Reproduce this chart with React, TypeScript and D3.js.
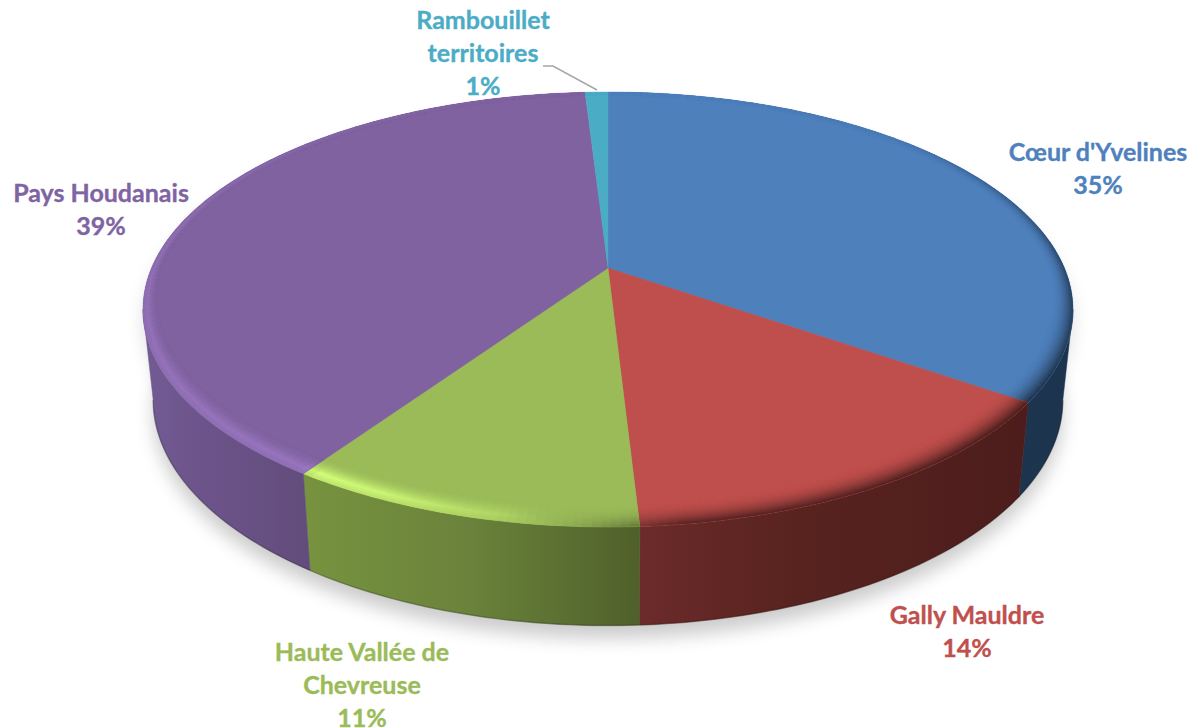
import React from "react";
import * as d3 from "d3";

const categories = ["Cœur d'Yvelines", "Gally Mauldre", "Haute Vallée de Chevreuse", "Pays Houdanais", "Rambouillet territoires"];
const labelPercents = ["35%", "14%", "11%", "39%", "1%"];
const shares = [34.7, 14.4, 10.4, 39.55, 0.95];
const colors = ["#4e80bc", "#bf4f4c", "#9bbb59", "#7f629f", "#4bacc6"];
const labelColors = ["#4f81bd", "#c0504d", "#9bbb59", "#8064a2", "#4bacc6"];
const labelLines = [["Cœur d'Yvelines", "35%"], ["Gally Mauldre", "14%"], ["Haute Vallée de", "Chevreuse", "11%"], ["Pays Houdanais", "39%"], ["Rambouillet", "territoires", "1%"]];
const labelAnchors = [[1098, 161], [967, 624], [362, 661], [101, 202], [483, 29]];
const wallStops = [
  [["#1f3753", 0], ["#1d344e", 1]],
  [["#6b2b2a", 0], ["#58231f", 0.4], ["#4c1d1c", 1]],
  [["#77933f", 0], ["#6a823b", 0.5], ["#4f602a", 1]],
  [["#725a93", 0], ["#6a5287", 0.5], ["#624c7b", 1]],
  [["#2a6070", 0], ["#2a6070", 1]],
];

const W = 1192, H = 728;
const cx = 608, apexY = 268, p = 0.1908, a = 158.45, c = 456.5;
const project = (t: number, r: number): [number, number] => {
  const u = r * Math.sin(t), v = -r * Math.cos(t);
  const w = 1 - p * v;
  return [cx + (c * u) / w, (a * v + apexY) / w];
};
const lower = ([x, y]: [number, number]): [number, number] => [cx + 0.978 * (x - cx), 400 + 1.037 * (y - 309.5)];

const lightScale = d3.scaleLinear()
  .domain([0, 45, 90, 126, 172, 183, 192, 205, 213, 215, 245, 275, 320, 360])
  .range([0, -0.05, -0.45, -0.62, -0.55, -0.1, 0.15, 0.32, 0.36, 0.2, 0.18, 0.14, 0.05, 0])
  .clamp(true);
const profile = (s: number, L: number) => (L < 0 ? s * s : s < 0.7 ? Math.pow(s / 0.7, 1.6) : 1 - ((s - 0.7) / 0.3) * 0.35);
const shade = (col: string, f: number) => {
  const q = d3.rgb(col);
  return d3.rgb(Math.min(255, q.r * f), Math.min(255, q.g * f), Math.min(255, q.b * f)).formatHex();
};

const pieArcs = d3.pie<number>().sort(null).startAngle(0).endAngle(2 * Math.PI)(shares);
const line = d3.line<[number, number]>();
const DEG = Math.PI / 180;
const samples = (a0: number, a1: number) => {
  const n = Math.max(2, Math.ceil((a1 - a0) / DEG));
  return d3.range(n + 1).map((i) => a0 + ((a1 - a0) * i) / n);
};
const BANDS = 12;
// The wall is visible only between the two silhouette tangents of the rim.
const silhouette = Math.acos(-p);

export default function App() {
  const allTs = samples(0, 2 * Math.PI);
  const bottomHull = allTs.map((t) => lower(project(t, 1)));
  const topHull = allTs.map((t) => project(t, 1));
  return (
    <svg width={W} height={H} viewBox={`0 0 ${W} ${H}`} style={{ position: "absolute", left: 0, top: 0, background: "#fff" }}>
      <defs>
        <filter id="soft" x="-10%" y="-10%" width="120%" height="130%"><feGaussianBlur stdDeviation="9" /></filter>
        {pieArcs.map((d, i) => (
          <linearGradient key={i} id={`wall${i}`} gradientUnits="userSpaceOnUse"
            x1={i === 0 || i === 1 ? 640 : i === 2 ? 304 : 145} x2={i === 0 ? 1072 : i === 1 ? 1027 : i === 2 ? 640 : 311} y1={0} y2={0}>
            {wallStops[i].map(([col, off], j) => <stop key={j} offset={off as number} stopColor={col as string} />)}
          </linearGradient>
        ))}
      </defs>
      <path d={(line(bottomHull) ?? "") + "Z"} transform="translate(0,13)" fill="#000" opacity={0.2} filter="url(#soft)" />
      <path d={(line(topHull) ?? "") + "Z"} transform="translate(0,13)" fill="#000" opacity={0.12} filter="url(#soft)" />
      {pieArcs.map((d, i) => {
        const a0 = Math.max(d.startAngle, silhouette);
        const a1 = Math.min(d.endAngle, 2 * Math.PI - silhouette);
        if (a1 <= a0) return null;
        const ts = samples(a0, a1);
        const top = ts.map((t) => project(t, 1));
        const bot = ts.map((t) => lower(project(t, 1)));
        return (
          <g key={i}>
            <path d={(line([...top, ...[...bot].reverse()]) ?? "") + "Z"} fill={`url(#wall${i})`} stroke={`url(#wall${i})`} strokeWidth={0.5} />
            <path d={line(bot) ?? ""} fill="none" stroke="#000" strokeOpacity={0.22} strokeWidth={1.5} />
          </g>
        );
      })}
      {pieArcs.map((d, i) => {
        const ts = samples(d.startAngle, d.endAngle);
        const poly: [number, number][] = [[cx, apexY], ...ts.map((t) => project(t, 1))];
        const clipId = `clip${i}`;
        return (
          <g key={i}>
            <clipPath id={clipId}><path d={(line(poly) ?? "") + "Z"} /></clipPath>
            <path d={(line(poly) ?? "") + "Z"} fill={colors[i]} stroke={colors[i]} strokeWidth={0.4} />
            <g clipPath={`url(#${clipId})`}>
              {ts.slice(0, -1).map((t, k) => {
                const t1 = ts[k + 1];
                const mid = (t + t1) / 2;
                const L = lightScale(mid / DEG);
                const v = Math.max(0, -Math.cos(mid));
                const sideWeight = Math.max(0, Math.sin(mid));
                const width = 0.022 + 0.045 * v + 0.012 * sideWeight;
                return d3.range(BANDS).map((b) => {
                  const s = (b + 0.5) / BANDS;
                  const r0 = 1 - width * (1 - b / BANDS);
                  const r1 = 1 - width * (1 - (b + 1) / BANDS);
                  const f = 1 + L * profile(s, L);
                  const col = shade(colors[i], f);
                  const q: [number, number][] = [project(t, r0), project(t1, r0), project(t1, r1), project(t, r1)];
                  return <path key={`${k}-${b}`} d={(line(q) ?? "") + "Z"} fill={col} stroke={col} strokeWidth={0.9} />;
                });
              })}
            </g>
          </g>
        );
      })}
      <polyline points="543,66 553,66 597,90" fill="none" stroke="#a6a6a6" strokeWidth={1.5} />
      {categories.map((name, i) => (
        <text key={name} data-percent={labelPercents[i]} textAnchor="middle" fontFamily="Lato, sans-serif" fontWeight={700} fontSize={25} stroke={labelColors[i]} strokeWidth={0.35} fill={labelColors[i]}>
          {labelLines[i].map((l, j) => (
            <tspan key={j} x={labelAnchors[i][0]} y={labelAnchors[i][1] + j * 33}>{l}</tspan>
          ))}
        </text>
      ))}
    </svg>
  );
}
